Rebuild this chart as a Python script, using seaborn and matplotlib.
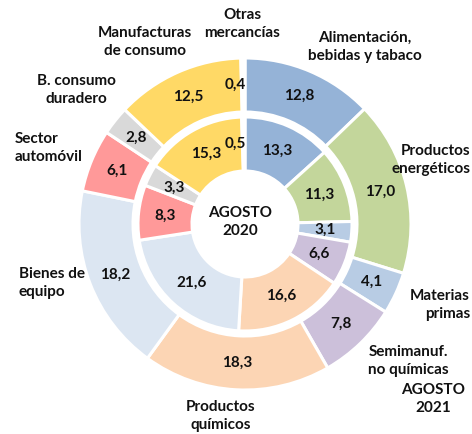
import matplotlib.pyplot as plt
import numpy as np
import seaborn as sns

# Datos (AGOSTO 2021 anillo exterior, AGOSTO 2020 anillo interior)
categorias = ['Alimentación,\nbebidas y tabaco', 'Productos\nenergéticos', 'Materias\nprimas',
              'Semimanuf.\nno químicas', 'Productos\nquímicos', 'Bienes de\nequipo',
              'Sector\nautomóvil', 'B. consumo\nduradero', 'Manufacturas\nde consumo',
              'Otras\nmercancías']
valores_2021 = [12.8, 17.0, 4.1, 7.8, 18.3, 18.2, 6.1, 2.8, 12.5, 0.4]
valores_2020 = [13.3, 11.3, 3.1, 6.6, 16.6, 21.6, 8.3, 3.3, 15.3, 0.5]
colores = ['#95B3D7', '#C3D69B', '#B8CCE4', '#CCC0DA', '#FCD5B4', '#DCE6F2',
           '#FF9999', '#D9D9D9', '#FFD966', '#FFFFFF']

sns.set_theme(style='white')
plt.rcParams['font.family'] = ['Lato', 'DejaVu Sans']

W, H = 472, 434
cx, cy, R = 245, 224, 166  # centro y radio en píxeles

fig = plt.figure(figsize=(W / 100, H / 100), dpi=100)
ax = fig.add_axes([0, 0, 1, 1])
ax.axis('off')

r_ext, r_int, ancho = 1.0, 107 / R, 54 / R
wedge = dict(width=ancho, edgecolor='white', linewidth=2.2)

ax.pie(valores_2021, radius=r_ext, colors=colores, startangle=90, counterclock=False,
       wedgeprops=wedge)
ax.pie(valores_2020, radius=r_int, colors=colores, startangle=90, counterclock=False,
       wedgeprops=wedge)
ax.set_xlim(-cx / R, (W - cx) / R)
ax.set_ylim(-(H - cy) / R, cy / R)
ax.set_aspect('equal')

fs = 11
color_txt = '#111111'


def etiquetas_valor(valores, r_medio):
    total = sum(valores)
    acumulado = 0
    for v in valores:
        ang = np.deg2rad(90 - (acumulado + v / 2) / total * 360)
        x, y = r_medio * np.cos(ang), r_medio * np.sin(ang)
        if v < 1:
            x -= 8 / R
        ax.text(x, y, f'{v:.1f}'.replace('.', ','), ha='center', va='center',
                fontsize=fs, fontweight='bold', color=color_txt)
        acumulado += v


etiquetas_valor(valores_2021, r_ext - ancho / 2)
etiquetas_valor(valores_2020, r_int - ancho / 2)


def px(x, y):
    return (x - cx) / R, (cy - y) / R


# posiciones de las etiquetas de categoría (píxeles)
pos_cat = [(365, 47, 'center'), (470, 160, 'right'), (470, 305, 'right'),
           (408, 361, 'center'), (221, 416, 'center'), (19, 283, 'left'),
           (15, 148, 'left'), (76, 90, 'center'), (145, 42, 'center'),
           (242, 24, 'center')]
for texto, (x, y, ha) in zip(categorias, pos_cat):
    ax.text(*px(x, y), texto, ha=ha, va='center', fontsize=fs, fontweight='bold',
            color=color_txt, linespacing=1.4, multialignment='center' if ha == 'center' else ha)

ax.text(*px(240, 222), 'AGOSTO\n2020', ha='center', va='center', fontsize=fs,
        fontweight='bold', color=color_txt, linespacing=1.4)
ax.text(*px(433, 399), 'AGOSTO\n2021', ha='center', va='center', fontsize=fs,
        fontweight='bold', color=color_txt, linespacing=1.4)

fig.savefig('out.png', dpi=100)
